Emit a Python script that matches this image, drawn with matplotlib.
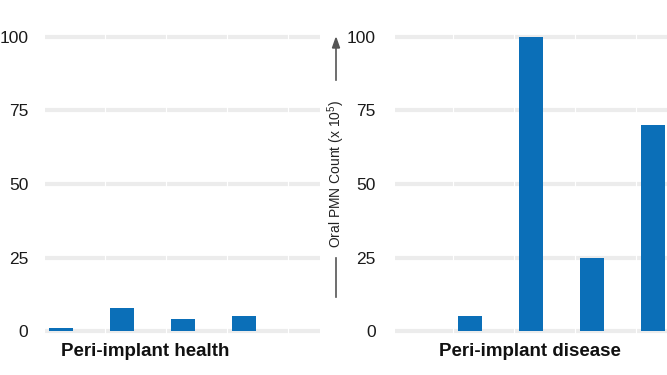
import numpy as np
import matplotlib.pyplot as plt

plt.rcParams['font.family'] = ['Liberation Sans', 'DejaVu Sans']
plt.rcParams['mathtext.fontset'] = 'custom'
plt.rcParams['mathtext.rm'] = 'Liberation Sans'
plt.rcParams['mathtext.it'] = 'Liberation Sans'

# data
health_vals  = [1, 8, 4, 5]
disease_vals = [0, 5, 100, 25, 70]
yticks       = [0, 25, 50, 75, 100]
health_label  = "Peri-implant health"
disease_label = "Peri-implant disease"
ylabel = "Oral PMN Count (x 10$^{5}$)"

bar_color  = "#0b6fb8"
grid_color = "#ececec"

W, H = 667, 375
fig = plt.figure(figsize=(W / 100, H / 100), dpi=100)
fig.patch.set_facecolor("white")


def px(x, y, w, h):
    # pixel box (from top-left) to figure fraction
    return [x / W, 1 - (y + h) / H, w / W, h / H]


def panel(rect, vals, xlim, pad):
    ax = fig.add_axes(rect)
    ax.set_ylim(-2, 102)
    ax.set_xlim(*xlim)
    for t in yticks:
        ax.axhline(t, color=grid_color, lw=3, zorder=1)
    for i in range(1, len(vals) + 1):
        ax.axvline(i - 0.28, color="white", lw=0.8, zorder=2)
    x = np.arange(len(vals))
    ax.bar(x, vals, width=0.4, color=bar_color, zorder=3)
    ax.set_yticks(yticks)
    ax.set_xticks([])
    ax.tick_params(axis="y", length=0, pad=pad, labelsize=12.5, labelcolor="#1a1a1a")
    for s in ax.spines.values():
        s.set_visible(False)
    return ax


ax1 = panel(px(45, 31, 275, 306), health_vals, (-0.26, 4.25), 12)
ax2 = panel(px(395, 31, 272, 306), disease_vals, (-0.23, 4.23), 14)

fig.text(145 / W, 1 - 351 / H, health_label, ha="center", va="center",
         fontsize=13.5, fontweight="bold", color="#111111")
fig.text(530 / W, 1 - 351 / H, disease_label, ha="center", va="center",
         fontsize=13.5, fontweight="bold", color="#111111")

# y-axis label with arrow broken around the text
ax_col = "#555555"
x_arr = 336 / W
fig.add_artist(plt.Line2D([x_arr, x_arr], [1 - 297 / H, 1 - 258 / H],
                          color=ax_col, lw=1.2))
fig.add_artist(plt.Line2D([x_arr, x_arr], [1 - 80 / H, 1 - 46 / H],
                          color=ax_col, lw=1.2))
fig.patches.append(plt.Polygon([[x_arr - 3.5 / W, 1 - 48 / H],
                                [x_arr + 3.5 / W, 1 - 48 / H],
                                [x_arr, 1 - 38 / H]],
                               closed=True, color=ax_col,
                               transform=fig.transFigure, figure=fig))
fig.text(x_arr, 1 - 174 / H, ylabel, rotation=90, ha="center", va="center",
         fontsize=10, color="#222222")

fig.savefig("out.png", dpi=100, facecolor="white")
